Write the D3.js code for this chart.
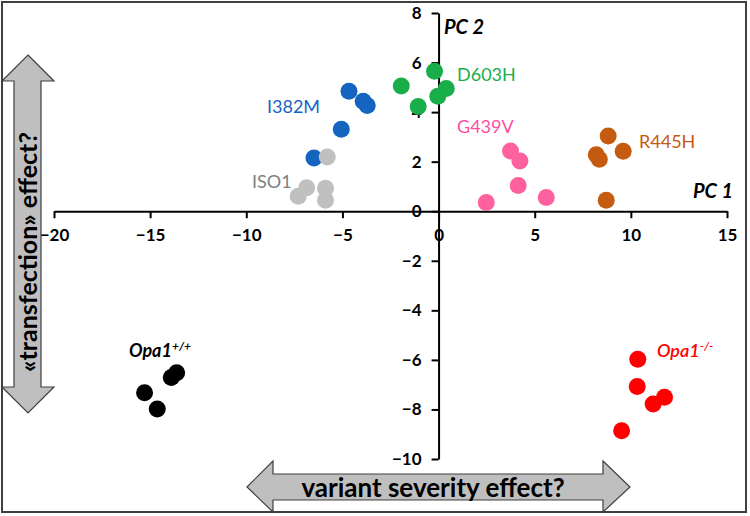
<!DOCTYPE html>
<html>
<head>
<meta charset="utf-8">
<script src="https://cdn.jsdelivr.net/npm/d3@7"></script>
<style>
  body { margin: 0; background: #fff; }
  svg { display: block; font-family: Lato, "Open Sans", sans-serif; }
</style>
</head>
<body>
<svg id="chart" width="750" height="516"></svg>
<script>
const width = 750;
const height = 516;

// axis setup
const xTicks = [-20, -15, -10, -5, 0, 5, 10, 15];
const yTicks = [-10, -8, -6, -4, -2, 0, 2, 4, 6, 8];

// one entry per group
const groups = ["I382M", "ISO1", "D603H", "G439V", "R445H", "Opa1+/+", "Opa1-/-"];
const colors = ["#1565c0", "#c0c0c0", "#1aae4b", "#ff619f", "#c55a11", "#000000", "#ff0000"];
const labelColors = ["#1565c0", "#808080", "#1aae4b", "#ff4fa3", "#c55a11", "#000000", "#ff0000"];

const pc1_I382M = [-4.66, -3.92, -3.71, -5.06, -6.48];
const pc2_I382M = [4.84, 4.44, 4.27, 3.31, 2.15];
const pc1_ISO1 = [-5.79, -6.86, -7.30, -5.88, -5.88];
const pc2_ISO1 = [2.19, 0.95, 0.60, 0.93, 0.44];
const pc1_D603H = [-1.94, -0.21, 0.40, -0.04, -1.06];
const pc2_D603H = [5.05, 5.65, 4.95, 4.64, 4.23];
const pc1_G439V = [3.74, 4.23, 4.14, 2.48, 5.60];
const pc2_G439V = [2.43, 2.03, 1.04, 0.35, 0.55];
const pc1_R445H = [8.82, 8.20, 8.36, 9.60, 8.72];
const pc2_R445H = [3.04, 2.28, 2.10, 2.42, 0.44];
const pc1_WT = [-13.90, -13.62, -15.29, -14.63];
const pc2_WT = [-6.71, -6.52, -7.33, -7.98];
const pc1_KO = [10.36, 10.33, 11.75, 11.16, 9.52];
const pc2_KO = [-5.97, -7.07, -7.51, -7.78, -8.86];

const pc1 = [pc1_I382M, pc1_ISO1, pc1_D603H, pc1_G439V, pc1_R445H, pc1_WT, pc1_KO];
const pc2 = [pc2_I382M, pc2_ISO1, pc2_D603H, pc2_G439V, pc2_R445H, pc2_WT, pc2_KO];

const svg = d3.select("#chart");

const x = d3.scaleLinear().domain([-20, 15]).range([54, 727]);
const y = d3.scaleLinear().domain([-10, 8]).range([459, 13]);

/* builds flat point list from the group arrays */
function buildPoints() {
    var pts = [];
    for (var g = 0; g < groups.length; g++) {
        for (var i = 0; i < pc1[g].length; i++) {
            pts.push({group: g, x: pc1[g][i], y: pc2[g][i]});
        }
    }
    return pts;
}

// frame around the figure
svg.append("rect")
    .attr("x", 2).attr("y", 2)
    .attr("width", 744).attr("height", 510)
    .attr("fill", "none")
    .attr("stroke", "#404040")
    .attr("stroke-width", 2);

// axes through the origin
var xAxis = svg.append("g")
    .attr("transform", "translate(0," + y(0) + ")")
    .call(d3.axisBottom(x).tickValues(xTicks).tickSize(7).tickSizeOuter(0).tickPadding(11));
var yAxis = svg.append("g")
    .attr("transform", "translate(" + x(0) + ",0)")
    .call(d3.axisLeft(y).tickValues(yTicks).tickSize(7).tickSizeOuter(0).tickPadding(10));

[xAxis, yAxis].forEach((ax) => {
    ax.select(".domain").attr("stroke", "#000").attr("stroke-width", 2);
    ax.selectAll(".tick line").attr("stroke", "#000").attr("stroke-width", 2);
    ax.selectAll(".tick text")
        .attr("fill", "#000")
        .style("font-family", "Lato, sans-serif")
        .style("font-size", "17px")
        .style("font-weight", "bold");
});

// points
svg.append("g").selectAll("circle")
    .data(buildPoints())
    .enter()
    .append("circle")
    .attr("cx", (d) => x(d.x))
    .attr("cy", (d) => y(d.y))
    .attr("r", 8.5)
    .attr("fill", (d) => colors[d.group]);

// axis titles
svg.append("text").attr("x", 444).attr("y", 34)
    .style("font-size", "20px").style("font-weight", "bold").style("font-style", "italic")
    .text("PC 2");
svg.append("text").attr("x", 733).attr("y", 198).attr("text-anchor", "end")
    .style("font-size", "20px").style("font-weight", "bold").style("font-style", "italic")
    .text("PC 1");

// group labels
const labelPos = [[267, 113], [252, 188], [457, 81], [457, 133], [639, 148]];
for (var g = 0; g < 5; g++) {
    svg.append("text")
        .attr("x", labelPos[g][0]).attr("y", labelPos[g][1])
        .attr("fill", labelColors[g])
        .style("font-size", "18px")
        .text(groups[g]);
}

var wt = svg.append("text").attr("x", 129).attr("y", 357)
    .style("font-size", "18px").style("font-weight", "bold").style("font-style", "italic")
    .attr("fill", labelColors[5]);
wt.append("tspan").text("Opa1");
wt.append("tspan").attr("dy", -7).style("font-size", "12px").text("+/+");

var ko = svg.append("text").attr("x", 657).attr("y", 357)
    .style("font-size", "18px").style("font-style", "italic").style("font-weight", 600)
    .attr("fill", labelColors[6]);
ko.append("tspan").text("Opa1");
ko.append("tspan").attr("dy", -7).style("font-size", "12px").text("-/-");

// double arrows (annotation)
const vArrow = [[28, 55], [54, 81], [41, 81], [41, 387], [54, 387], [28, 413],
                [2, 387], [14, 387], [14, 81], [2, 81]];
const hArrow = [[247, 487], [273, 461], [273, 474], [603, 474], [603, 461], [630, 487],
                [603, 512], [603, 500], [273, 500], [273, 512]];
[vArrow, hArrow].forEach((pts) => {
    svg.append("polygon")
        .attr("points", pts.map((p) => p.join(",")).join(" "))
        .attr("fill", "#bfbfbf")
        .attr("stroke", "#404040")
        .attr("stroke-width", 1.2);
});

svg.append("text")
    .attr("transform", "translate(37,252) rotate(-90)")
    .attr("text-anchor", "middle")
    .style("font-size", "25px").style("font-weight", "bold")
    .text("«transfection» effect?");
svg.append("text")
    .attr("x", 433).attr("y", 497)
    .attr("text-anchor", "middle")
    .style("font-size", "26px").style("font-weight", "bold")
    .text("variant severity effect?");
</script>
</body>
</html>
